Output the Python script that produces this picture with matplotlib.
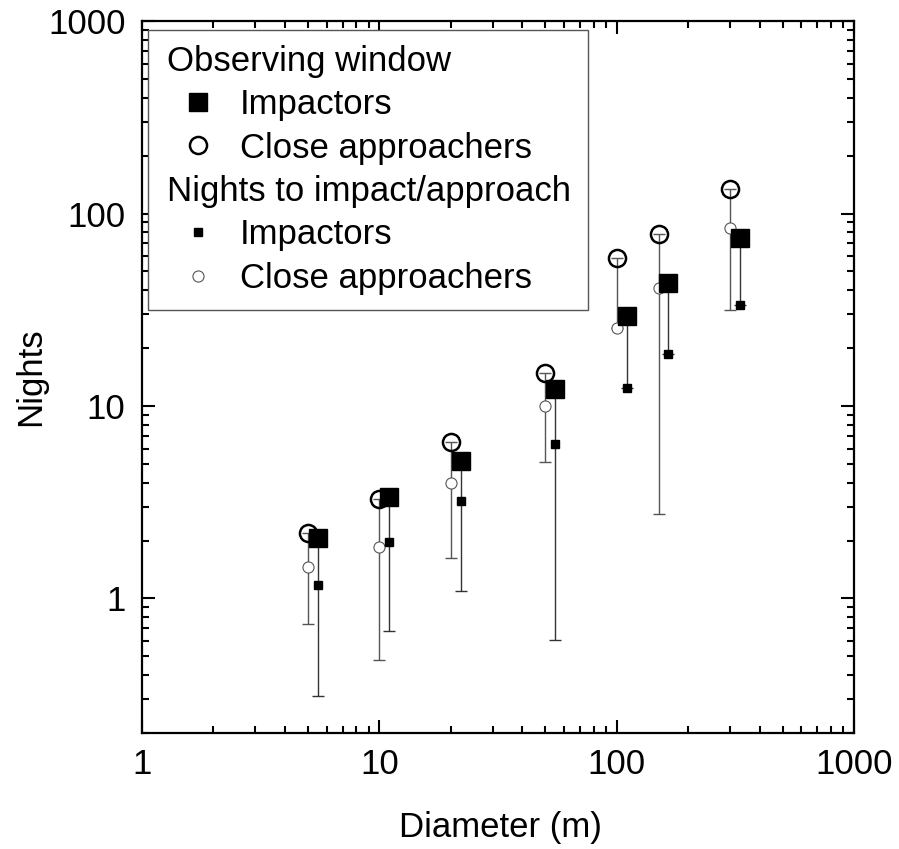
import matplotlib.pyplot as plt
from matplotlib.lines import Line2D
from matplotlib.ticker import FuncFormatter, NullFormatter
from matplotlib.transforms import ScaledTranslation

plt.rcParams['font.family'] = ['Liberation Sans', 'DejaVu Sans']

# diameters (m); impactor squares sit a little right of the circles
diam_close = [5, 10, 20, 50, 100, 150, 300]
diam_impact = [5.5, 11, 22, 55, 110, 165, 330]

# observing window (nights)
window_impact = [2.05, 3.35, 5.2, 12.3, 29.3, 43.4, 74.4]
window_close = [2.2, 3.3, 6.5, 14.8, 59, 78, 134]

# nights to impact / close approach
nights_impact = [1.18, 1.97, 3.2, 6.35, 12.4, 18.6, 33.3]
nights_close = [1.45, 1.86, 4.0, 10.0, 25.4, 40.9, 83.7]

# lower ends of the error bars
low_impact = [0.31, 0.68, 1.1, 0.61, 12.4, 18.6, 33.3]
low_close = [0.74, 0.48, 1.63, 5.1, 25.4, 2.76, 31.4]

xticks = [1, 10, 100, 1000]
yticks = [1, 10, 100, 1000]

fs = 25

fig = plt.figure(figsize=(8.99, 8.49), dpi=100)
ax = fig.add_axes([0.158, 0.1366, 0.792, 0.8386])

err_close = [[w - l for w, l in zip(window_close, low_close)], [0] * len(window_close)]
err_impact = [[w - l for w, l in zip(window_impact, low_impact)], [0] * len(window_impact)]

ax.errorbar(diam_close, window_close, yerr=err_close, fmt='none', ecolor='#555555',
            elinewidth=1, capsize=4.5, capthick=1, zorder=2)
ax.errorbar(diam_impact, window_impact, yerr=err_impact, fmt='none', ecolor='#333333',
            elinewidth=1, capsize=4.5, capthick=1, zorder=2)

ax.plot(diam_close, window_close, 'o', ms=12.3, mfc='none', mec='black', mew=1.8, zorder=3)
ax.plot(diam_close, nights_close, 'o', ms=8, mfc='white', mec='#555555', mew=0.8, zorder=4)
ax.plot(diam_impact, window_impact, 's', ms=13, color='black', mew=1, zorder=5)
ax.plot(diam_impact, nights_impact, 's', ms=6.4, color='black', mew=1, zorder=6)

ax.set_xscale('log')
ax.set_yscale('log')
ax.set_xlim(1, 1000)
ax.set_ylim(0.2, 1000)
ax.set_xticks(xticks)
ax.set_yticks(yticks)
fmt = FuncFormatter(lambda v, p: f'{v:g}')
ax.xaxis.set_major_formatter(fmt)
ax.yaxis.set_major_formatter(fmt)
ax.xaxis.set_minor_formatter(NullFormatter())
ax.yaxis.set_minor_formatter(NullFormatter())

ax.tick_params(which='both', direction='in', top=True, right=True, width=1.5,
               labelsize=fs, colors='black')
ax.tick_params(which='major', length=9.5)
ax.tick_params(which='minor', length=5)
ax.tick_params(axis='x', pad=11)
ax.tick_params(axis='y', pad=12)
for s in ax.spines.values():
    s.set_linewidth(1.6)

ax.set_xlabel('Diameter (m)', fontsize=fs)
ax.xaxis.set_label_coords(0.503, -0.110)
ax.set_ylabel('Nights', fontsize=fs)
ax.yaxis.set_label_coords(-0.133, 0.5)

blank = Line2D([], [], linestyle='none')
handles = [
    blank,
    Line2D([], [], linestyle='none', marker='s', ms=13, color='black'),
    Line2D([], [], linestyle='none', marker='o', ms=12.3, mfc='none', mec='black', mew=1.8),
    blank,
    Line2D([], [], linestyle='none', marker='s', ms=6.4, color='black'),
    Line2D([], [], linestyle='none', marker='o', ms=8, mfc='white', mec='#555555', mew=0.8),
]
labels = ['Observing window', 'Impactors', 'Close approachers',
          'Nights to impact/approach', 'Impactors', 'Close approachers']
leg = ax.legend(handles, labels, loc='upper left', bbox_to_anchor=(0.0084, 0.0, 0.618, 0.988),
                mode='expand', borderaxespad=0, fontsize=fs, handlelength=2.01,
                handletextpad=0.195, borderpad=0.435, labelspacing=0.3, fancybox=False,
                edgecolor='#555555', framealpha=1)
leg.get_frame().set_linewidth(1)
for i in (0, 3):
    t = leg.get_texts()[i]
    t.set_transform(t.get_transform() + ScaledTranslation(-0.73, 0, fig.dpi_scale_trans))

fig.savefig('out.png', dpi=100)
